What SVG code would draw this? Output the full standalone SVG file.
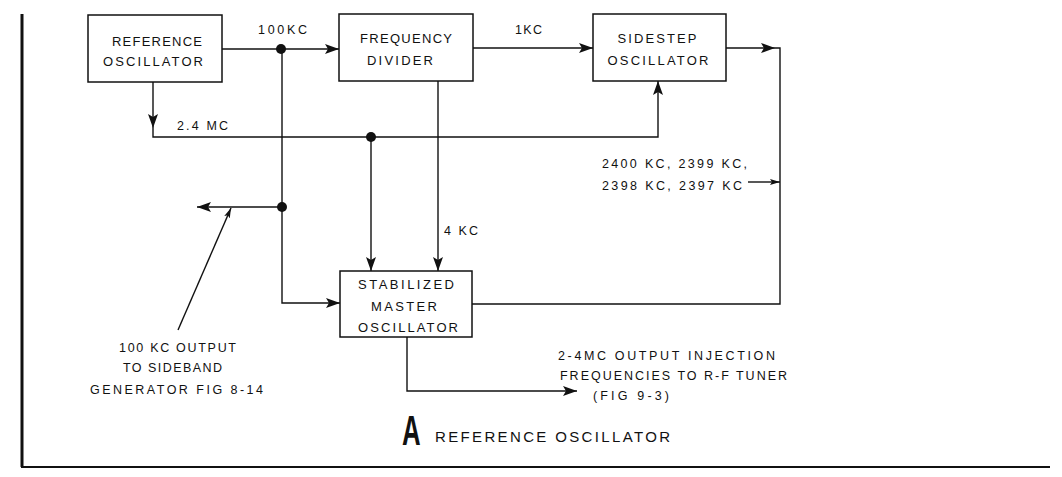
<svg xmlns="http://www.w3.org/2000/svg" width="1062" height="477" viewBox="0 0 1062 477">
<style>
.box{fill:#fff;stroke:#111;stroke-width:1.5}
.ln{fill:none;stroke:#111;stroke-width:1.4}
.t{font-family:"Liberation Sans",Arial,sans-serif;font-size:13px;fill:#111;text-anchor:middle}
.l{font-family:"Liberation Sans",Arial,sans-serif;font-size:12.5px;fill:#111}
.dot{fill:#111}
</style>
<defs>
<marker id="ah" markerUnits="userSpaceOnUse" markerWidth="14" markerHeight="10" viewBox="0 0 14 10" refX="14" refY="5" orient="auto">
<path d="M0,0 L14,5 L0,10 L3,5 Z" fill="#111"/>
</marker>
<marker id="sh" markerUnits="userSpaceOnUse" markerWidth="10" markerHeight="6" viewBox="0 0 10 6" refX="10" refY="3" orient="auto">
<path d="M0,0 L10,3 L0,6 L2,3 Z" fill="#111"/>
</marker>
</defs>
<rect width="1062" height="477" fill="#fff"/>
<g id="frame">
<path d="M22,14 V467" stroke="#111" stroke-width="3" fill="none"/>
<path d="M21,467 H1050" stroke="#111" stroke-width="2" fill="none"/>
</g>
<g id="connectors">
<path class="ln" d="M222,49 H339" marker-end="url(#ah)"/>
<path class="ln" d="M473,48 H593" marker-end="url(#ah)"/>
<path class="ln" d="M726,48 H775" marker-end="url(#ah)"/>
<path class="ln" d="M775,48 H780 V304 H472"/>
<path class="ln" d="M153,82 V128" marker-end="url(#ah)"/>
<path class="ln" d="M153,128 V137 H658 V81" marker-end="url(#ah)"/>
<path class="ln" d="M371,137 V271" marker-end="url(#ah)"/>
<path class="ln" d="M438,81 V271" marker-end="url(#ah)"/>
<path class="ln" d="M282,49 V303 H340" marker-end="url(#ah)"/>
<path class="ln" d="M282,207 H197" marker-end="url(#ah)"/>
<path class="ln" d="M178,330 L231,208" marker-end="url(#sh)"/>
<path class="ln" d="M407,337 V391 H577" marker-end="url(#ah)"/>
<path class="ln" d="M748,182 H780" marker-end="url(#sh)"/>
<circle class="dot" cx="281" cy="49" r="5"/>
<circle class="dot" cx="371" cy="137" r="5"/>
<circle class="dot" cx="282" cy="207" r="5"/>
</g>
<g id="reference-oscillator">
<rect class="box" x="88" y="15" width="134" height="67"/>
<text class="t" x="157" y="46" textLength="90" lengthAdjust="spacing">REFERENCE</text>
<text class="t" x="153" y="66" textLength="100" lengthAdjust="spacing">OSCILLATOR</text>
</g>
<g id="frequency-divider">
<rect class="box" x="339" y="14" width="134" height="67"/>
<text class="t" x="406" y="43" textLength="92" lengthAdjust="spacing">FREQUENCY</text>
<text class="t" x="400" y="65" textLength="66" lengthAdjust="spacing">DIVIDER</text>
</g>
<g id="sidestep-oscillator">
<rect class="box" x="593" y="14" width="133" height="67"/>
<text class="t" x="657" y="43" textLength="79" lengthAdjust="spacing">SIDESTEP</text>
<text class="t" x="658" y="65" textLength="101" lengthAdjust="spacing">OSCILLATOR</text>
</g>
<g id="stabilized-master-oscillator">
<rect class="box" x="340" y="271" width="132" height="66"/>
<text class="t" x="406" y="289" textLength="96" lengthAdjust="spacing">STABILIZED</text>
<text class="t" x="404" y="311" textLength="66" lengthAdjust="spacing">MASTER</text>
<text class="t" x="408" y="332" textLength="100" lengthAdjust="spacing">OSCILLATOR</text>
</g>
<g id="labels">
<text class="l" x="258" y="34" textLength="49" lengthAdjust="spacing">100KC</text>
<text class="l" x="515" y="34" textLength="27" lengthAdjust="spacing">1KC</text>
<text class="l" x="177" y="130" textLength="51" lengthAdjust="spacing">2.4 MC</text>
<text class="l" x="444" y="235" textLength="34" lengthAdjust="spacing">4 KC</text>
<text class="l" x="602" y="168" textLength="145" lengthAdjust="spacing">2400 KC, 2399 KC,</text>
<text class="l" x="602" y="190" textLength="140" lengthAdjust="spacing">2398 KC, 2397 KC</text>
<text class="l" x="119" y="352" textLength="117" lengthAdjust="spacing">100 KC OUTPUT</text>
<text class="l" x="123" y="372" textLength="99" lengthAdjust="spacing">TO SIDEBAND</text>
<text class="l" x="90" y="394" textLength="173" lengthAdjust="spacing">GENERATOR FIG 8-14</text>
<text class="l" x="558" y="360" textLength="217" lengthAdjust="spacing">2-4MC OUTPUT INJECTION</text>
<text class="l" x="560" y="380" textLength="227" lengthAdjust="spacing">FREQUENCIES TO R-F TUNER</text>
<text class="l" x="593" y="400" textLength="76" lengthAdjust="spacing">(FIG 9-3)</text>
<text x="402" y="445" style="font-family:'Liberation Sans',Arial,sans-serif;font-size:43px;font-weight:bold;fill:#111" transform="translate(402,445) scale(0.6,1) translate(-402,-445)">A</text>
<text class="l" x="435" y="442" style="font-size:15px" textLength="235" lengthAdjust="spacing">REFERENCE OSCILLATOR</text>
</g>
</svg>
